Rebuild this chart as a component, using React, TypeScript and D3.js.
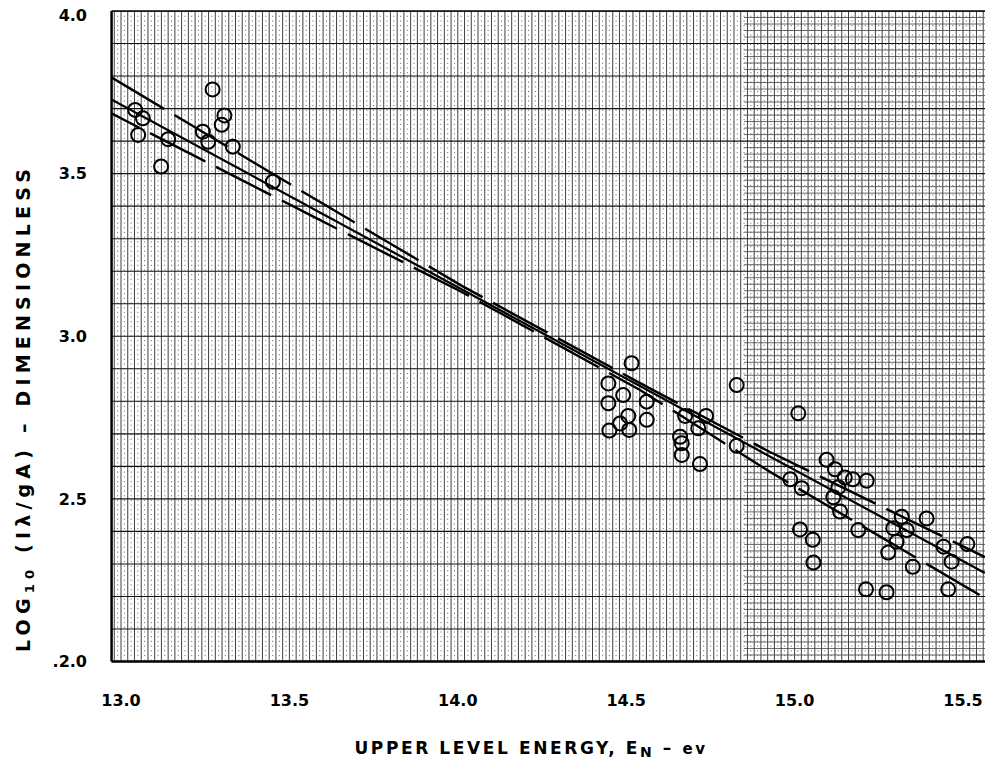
import React from "react";
import * as d3 from "d3";

// Upper level energy (ev) and log10(Iλ/gA) for each measured line
const energy = [
  13.042, 13.065, 13.051, 13.119, 13.14, 13.272, 13.243, 13.259, 13.307, 13.299, 13.332, 13.451,
  14.447, 14.447, 14.45, 14.516, 14.491, 14.506, 14.509, 14.482, 14.561, 14.561,
  14.675, 14.737, 14.714, 14.66, 14.665, 14.665, 14.719, 14.828, 14.828,
  15.011, 15.095, 15.12, 15.149, 15.173, 15.214, 14.987, 15.021, 15.13, 15.115, 15.135,
  15.016, 15.054, 15.056, 15.189, 15.318, 15.392, 15.293, 15.333, 15.303, 15.278, 15.351,
  15.442, 15.513, 15.466, 15.456, 15.212, 15.273,
];
const logRatio = [
  3.696, 3.67, 3.619, 3.522, 3.606, 3.759, 3.629, 3.598, 3.679, 3.65, 3.583, 3.475,
  2.855, 2.794, 2.71, 2.917, 2.819, 2.755, 2.712, 2.732, 2.799, 2.743,
  2.755, 2.755, 2.717, 2.691, 2.671, 2.635, 2.607, 2.85, 2.663,
  2.763, 2.62, 2.591, 2.566, 2.56, 2.556, 2.56, 2.533, 2.536, 2.505, 2.461,
  2.406, 2.374, 2.304, 2.404, 2.445, 2.44, 2.41, 2.404, 2.368, 2.335, 2.291,
  2.353, 2.361, 2.307, 2.222, 2.222, 2.213,
];

// Fitted line and its upper / lower limit lines
const fitEnergy = [12.97, 15.565];
const fitLog = [3.729, 2.272];
const bandEnergy = [12.97, 13.561, 14.012, 14.541, 14.927, 15.565];
const upperBand = [3.797, 3.431, 3.155, 2.856, 2.644, 2.321];
const lowerBand = [3.686, 3.373, 3.136, 2.835, 2.583, 2.195];

const xTicks = [13.0, 13.5, 14.0, 14.5, 15.0, 15.5];
const xTickLabels = ["13.0", "13.5", "14.0", "14.5", "15.0", "15.5"];
const yTicks = [2.0, 2.5, 3.0, 3.5, 4.0];
const yTickLabels = [".2.0", "2.5", "3.0", "3.5", "4.0"];

const W = 985;
const H = 761;
const FONT = "'DejaVu Sans', Verdana, sans-serif";

export default function App() {
  const x = d3.scaleLinear().domain([13, 15.5]).range([121, 963]);
  const y = d3.scaleLinear().domain([2, 4]).range([661.5, 11]);

  const xMin = 12.972;
  const xMax = 15.62;
  const denseFrom = 14.85;

  const left = x(xMin);
  const right = x(xMax);
  const top = y(4);
  const bottom = y(2);

  // graph-paper rulings, in hundredths of an ev / of a decade
  const vSolid: number[] = [];
  const vDotted: number[] = [];
  for (let k = 1297; k <= 1562; k++) {
    if (k % 2 === 0) vSolid.push(k / 100);
    else vDotted.push(k / 100);
  }
  const hMajor = d3.range(20, 41).map((k) => k / 10);
  const hDense = d3.range(200, 401, 2).filter((k) => k % 10 !== 0).map((k) => k / 100);

  const line = d3
    .line<[number, number]>()
    .x((d) => x(d[0]))
    .y((d) => y(d[1]));

  const fitPath = line(fitEnergy.map((e, i) => [e, fitLog[i]]) as [number, number][]);
  const upperPath = line(bandEnergy.map((e, i) => [e, upperBand[i]]) as [number, number][]);
  const lowerPath = line(bandEnergy.map((e, i) => [e, lowerBand[i]]) as [number, number][]);

  return (
    <svg
      width={W}
      height={H}
      viewBox={`0 0 ${W} ${H}`}
      style={{ position: "absolute", left: 0, top: 0, background: "#fff" }}
    >
      <defs>
        <clipPath id="plot-area">
          <rect x={left} y={top} width={right - left} height={bottom - top} />
        </clipPath>
      </defs>
      <rect x={0} y={0} width={W} height={H} fill="#fff" />

      <g clipPath="url(#plot-area)">
        {vDotted.map((v) => (
          <line
            key={"vd" + v}
            x1={x(v)}
            x2={x(v)}
            y1={top}
            y2={bottom}
            stroke="#666"
            strokeWidth={0.9}
            strokeDasharray="1.2 3.5"
          />
        ))}
        {vSolid.map((v) => (
          <line key={"vs" + v} x1={x(v)} x2={x(v)} y1={top} y2={bottom} stroke="#2a2a2a" strokeWidth={0.9} />
        ))}
        {hDense.map((v) => (
          <line key={"hd" + v} x1={x(denseFrom)} x2={right} y1={y(v)} y2={y(v)} stroke="#444" strokeWidth={0.8} />
        ))}
        {hMajor.map((v) => (
          <line key={"hm" + v} x1={left} x2={right} y1={y(v)} y2={y(v)} stroke="#111" strokeWidth={1.1} />
        ))}

        <path d={upperPath ?? ""} fill="none" stroke="#000" strokeWidth={2.4} strokeDasharray="62 12" />
        <path d={lowerPath ?? ""} fill="none" stroke="#000" strokeWidth={2.4} strokeDasharray="62 12" strokeDashoffset={30} />
        <path d={fitPath ?? ""} fill="none" stroke="#000" strokeWidth={2.2} />

        {energy.map((e, i) => (
          <circle key={"p" + i} cx={x(e)} cy={y(logRatio[i])} r={7} fill="none" stroke="#000" strokeWidth={2} />
        ))}
      </g>

      {/* frame */}
      <line x1={left} x2={left} y1={top} y2={bottom} stroke="#000" strokeWidth={2.5} />
      <line x1={left} x2={right} y1={bottom} y2={bottom} stroke="#000" strokeWidth={2.5} />
      <line x1={left} x2={right} y1={top} y2={top} stroke="#000" strokeWidth={1.5} />

      {/* x tick labels */}
      {xTicks.map((v, i) => (
        <text
          key={"xt" + v}
          x={x(v)}
          y={706}
          textAnchor="middle"
          fontFamily={FONT}
          fontWeight="bold"
          fontSize={16}
          fill="#000"
        >
          {xTickLabels[i]}
        </text>
      ))}

      {/* y tick labels */}
      {yTicks.map((v, i) => (
        <text
          key={"yt" + v}
          x={87}
          y={y(v) + (v === 4 ? 4 : 0)}
          dy="0.36em"
          textAnchor="end"
          fontFamily={FONT}
          fontWeight="bold"
          fontSize={16}
          fill="#000"
        >
          {yTickLabels[i]}
        </text>
      ))}

      {/* axis titles */}
      <text
        x={531}
        y={754}
        textAnchor="middle"
        fontFamily={FONT}
        fontWeight="bold"
        fontSize={17}
        letterSpacing={2.6}
        fill="#000"
      >
        UPPER LEVEL ENERGY, E
        <tspan fontSize={14} dy={3}>N</tspan>
        <tspan dy={-3}> – </tspan>
        <tspan fontSize={15}>ev</tspan>
      </text>

      <text
        transform="translate(30,408) rotate(-90)"
        textAnchor="middle"
        fontFamily={FONT}
        fontWeight="bold"
        fontSize={19}
        letterSpacing={5.2}
        fill="#000"
      >
        LOG
        <tspan fontSize={13} dy={4}>10</tspan>
        <tspan dy={-4}> (Iλ/gA) – DIMENSIONLESS</tspan>
      </text>
    </svg>
  );
}
